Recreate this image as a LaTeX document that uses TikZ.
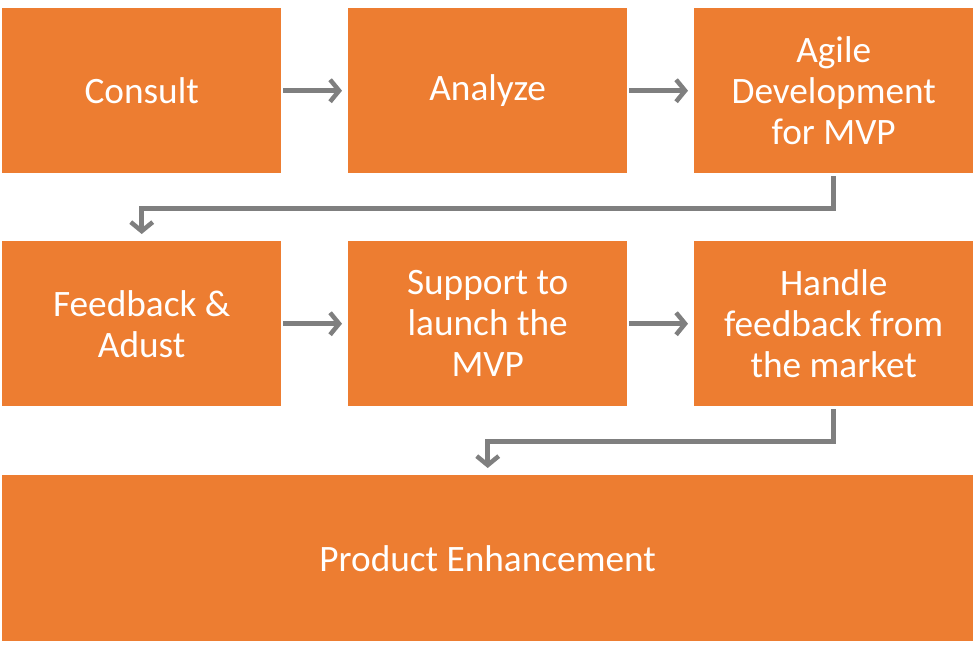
\documentclass[tikz,border=0pt]{standalone}
\usepackage{fontspec}
\setmainfont{Carlito}
\usetikzlibrary{arrows.meta}
\definecolor{boxorange}{HTML}{ED7D31}
\definecolor{arrowgray}{HTML}{7F7F7F}
\begin{document}
\begin{tikzpicture}[x=1pt,y=-1pt,
  box/.style={fill=boxorange, draw=none, text=white, align=center,
    font=\fontsize{37.3}{41}\selectfont, inner sep=0pt,
    minimum width=279pt, minimum height=165pt, anchor=north west},
  flow/.style={draw=arrowgray, line width=4.5pt,
    -{Straight Barb[length=9pt,width=22pt]}}]
\useasboundingbox (0,0) rectangle (976,650);
\node[box] (consult) at (2,8) {Consult};
\node[box] (analyze) at (348,8) {Analyze};
\node[box] (agile) at (694,8) {Agile\\Development\\for MVP};
\node[box] (feedback) at (2,241) {Feedback \&\\Adust};
\node[box] (support) at (348,241) {Support to\\launch the\\MVP};
\node[box] (handle) at (694,241) {Handle\\feedback from\\the market};
\node[box, minimum width=971pt, minimum height=166pt] (product) at (2,475) {Product Enhancement};
\draw[flow] ([xshift=2pt]consult.east) -- ([xshift=-6pt]analyze.west);
\draw[flow] ([xshift=2pt]analyze.east) -- ([xshift=-6pt]agile.west);
\draw[flow] ([xshift=2pt]feedback.east) -- ([xshift=-6pt]support.west);
\draw[flow] ([xshift=2pt]support.east) -- ([xshift=-6pt]handle.west);
\draw[flow] ([yshift=-3pt]agile.south) -- ++(0,32) -| ([yshift=7pt]feedback.north);
\draw[flow] ([yshift=-3pt]handle.south) -- ++(0,32) -| ([yshift=7pt]product.north);
\end{tikzpicture}
\end{document}
